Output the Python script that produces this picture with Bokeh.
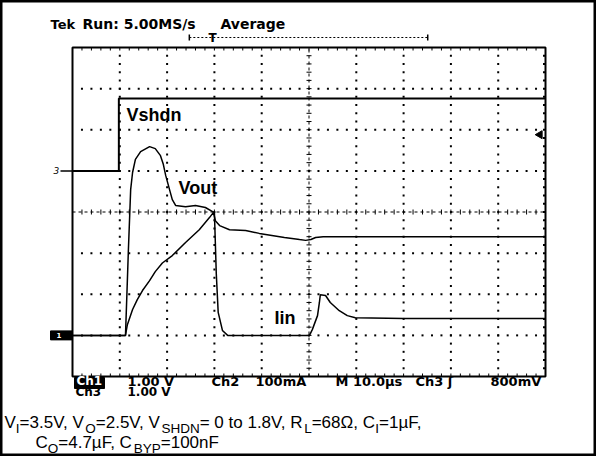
import numpy as np
from bokeh.plotting import figure
from bokeh.models import Range1d
from bokeh.core.properties import value
from bokeh.embed import file_html
from bokeh.resources import INLINE

# ---------------- data ----------------
# time in µs from the left edge of the graticule (M 10.0 µs/div, 10 divisions)
vshdn_t = [0.0, 9.8, 9.8, 100.0]
vshdn_v = [0.0, 0.0, 1.76, 1.76]                      # V  (Ch3, 1.00 V/div)

iin_t = [0.0, 11.2, 11.5, 11.8, 12.3, 12.7, 13.3, 14.4, 16.3, 17.5, 18.6, 19.2,
         19.7, 20.5, 21.1, 21.8, 23.9, 26.0, 28.1, 29.6, 30.0, 30.4, 30.8, 31.7,
         32.8, 50.1, 50.7, 51.8, 52.2, 52.4, 53.5, 54.5, 56.4, 58.1, 59.8, 70.0,
         80.0, 90.0, 100.0]
iin_ma = [0, 0, 100, 202, 355, 396, 428, 447, 459, 454, 437, 416,
          389, 355, 330, 316, 313, 316, 311, 301, 299, 150, 56, 12,
          0, 0, 14, 48, 80, 99, 97, 80, 60, 48, 43, 41,
          41, 41, 41]                                  # mA (Ch2, 100 mA/div)

vout_t = [0.0, 11.2, 11.6, 12.7, 13.7, 14.8, 16.3, 17.5, 19.0, 21.1, 23.9, 26.8,
          29.0, 29.8, 30.2, 31.1, 33.2, 36.6, 39.5, 44.8, 48.0, 49.3, 50.4, 51.4,
          53.0, 70.0, 100.0]
vout_v = [0.0, 0.0, 0.26, 0.63, 0.87, 1.09, 1.33, 1.55, 1.76, 1.94, 2.26, 2.57,
          2.87, 2.99, 2.79, 2.67, 2.57, 2.55, 2.48, 2.38, 2.33, 2.31, 2.33, 2.38,
          2.40, 2.40, 2.40]                            # V  (Ch1, 1.00 V/div)

# channel ground reference (divisions above graticule bottom) and scale per division
CH1_GND, CH1_SCALE = 1.0, 1.0
CH2_GND, CH2_SCALE = 1.0, 100.0
CH3_GND, CH3_SCALE = 5.0, 1.0
trigger_level_v = 0.88
record_window_us = [24.7, 75.1]
trigger_pos_us = 29.6

N_HDIV, N_VDIV, US_PER_DIV, MINOR = 10, 8, 10.0, 5

header_texts = ["Tek", "Run: 5.00MS/s", "Average"]
row1_texts = ["1.00 V", "Ch2", "100mA", "M 10.0\u00b5s", "Ch3 \u0283", "800mV"]
row2_texts = ["Ch3", "1.00 V"]
trace_labels = ["Vshdn", "Vout", "Iin"]
caption_line1 = [("V", 0), ("I", 1), ("=3.5V, V", 0), ("O", 1), ("=2.5V, V", 0),
                 ("SHDN", 1), ("= 0 to 1.8V, R", 0), ("L", 1), ("=68\u03a9, C", 0),
                 ("I", 1), ("=1\u00b5F,", 0)]
caption_line2 = [("C", 0), ("O", 1), ("=4.7\u00b5F, C", 0), ("BYP", 1), ("=100nF", 0)]

# ---------------- layout ----------------
W, H = 596, 456
PX_PER_US = 4.73
PX_PER_DIV = 41.125
GRID_LEFT = 72.0      # canvas px
GRID_BOTTOM = 376.0   # canvas px from top


def ux(px_ref):
    return (px_ref - 8 - GRID_LEFT) / PX_PER_US


def uy(py_ref):
    return (GRID_BOTTOM - (py_ref - 8)) / PX_PER_DIV


p = figure(width=W, height=H,
           x_range=Range1d(-GRID_LEFT / PX_PER_US, (W - GRID_LEFT) / PX_PER_US),
           y_range=Range1d(-(H - GRID_BOTTOM) / PX_PER_DIV, GRID_BOTTOM / PX_PER_DIV),
           output_backend="svg", toolbar_location=None,
           x_axis_location=None, y_axis_location=None, min_border=0)
p.grid.visible = False
p.outline_line_color = "black"
p.outline_line_width = 4
p.background_fill_color = "white"
p.border_fill_color = "white"

T_MAX = N_HDIV * US_PER_DIV
minor_t = np.arange(0, T_MAX + 1e-9, US_PER_DIV / MINOR)
minor_d = np.arange(0, N_VDIV + 1e-9, 1.0 / MINOR)

# graticule dots
dx, dy = [], []
for k in range(1, N_HDIV):
    if k == N_HDIV // 2:
        continue
    for d in minor_d[1:-1]:
        dx.append(k * US_PER_DIV); dy.append(d)
for k in range(1, N_VDIV):
    if k == N_VDIV // 2:
        continue
    for t in minor_t[1:-1]:
        dx.append(t); dy.append(k)
for d in minor_d[1:-1]:
    dx.append(T_MAX - 1.5 / PX_PER_US); dy.append(d)
p.scatter(dx, dy, marker="square", size=2, color="black", line_width=0)

# border ticks
tick_t = minor_t[1:-1]
tk = 3.0 / PX_PER_DIV
p.segment(x0=tick_t, y0=[N_VDIV] * len(tick_t), x1=tick_t, y1=[N_VDIV - tk] * len(tick_t),
          line_color="black", line_width=1)
p.segment(x0=tick_t, y0=[0] * len(tick_t), x1=tick_t, y1=[tk] * len(tick_t),
          line_color="black", line_width=1)

# center cross lines with ticks
cx, cy = T_MAX / 2, N_VDIV / 2
p.line([0, T_MAX], [cy, cy], line_color="black", line_width=1, line_dash="3 3")
p.line([cx, cx], [0, N_VDIV], line_color="black", line_width=1, line_dash="3 3")
p.segment(x0=tick_t, y0=[cy - 2.5 / PX_PER_DIV] * len(tick_t), x1=tick_t,
          y1=[cy + 2.5 / PX_PER_DIV] * len(tick_t), line_color="black", line_width=1)
td = minor_d[1:-1]
p.segment(x0=[cx - 2.5 / PX_PER_US] * len(td), y0=td, x1=[cx + 2.5 / PX_PER_US] * len(td),
          y1=td, line_color="black", line_width=1)

# graticule frame
p.quad(left=[0], right=[T_MAX], bottom=[0], top=[N_VDIV], fill_color=None,
       line_color="black", line_width=2)

# traces
p.line(vshdn_t, [CH3_GND + v / CH3_SCALE for v in vshdn_v], line_color="black", line_width=2)
p.line(iin_t, [CH2_GND + v / CH2_SCALE for v in iin_ma], line_color="black", line_width=1.5)
p.line(vout_t, [CH1_GND + v / CH1_SCALE for v in vout_v], line_color="black", line_width=1.5)

# channel markers
p.rect(x=[ux(69)], y=[CH1_GND], width=22 / PX_PER_US, height=9 / PX_PER_DIV,
       fill_color="black", line_color="black")
p.text(x=[ux(64)], y=[CH1_GND], text=["1"], text_color="white", text_font=value("DejaVu Sans"),
       text_font_size=value("7px"), text_font_style="bold", text_baseline="middle")
p.text(x=[ux(61)], y=[CH3_GND], text=["3"], text_color="black", text_font=value("DejaVu Sans"),
       text_font_size=value("9px"), text_font_style="italic", text_baseline="middle")
p.segment(x0=[ux(68)], y0=[CH3_GND], x1=[0], y1=[CH3_GND], line_color="black", line_width=1.5)
p.scatter([T_MAX - 1.2], [CH3_GND + trigger_level_v / CH3_SCALE], marker="triangle",
          angle=np.pi / 2, size=8, color="black")

# record bracket / trigger position
by = uy(45)
p.line(record_window_us, [by, by], line_color="black", line_width=1, line_dash="2 2")
p.segment(x0=record_window_us, y0=[by - 3 / PX_PER_DIV] * 2, x1=record_window_us,
          y1=[by + 3 / PX_PER_DIV] * 2, line_color="black", line_width=1.5)
p.text(x=[trigger_pos_us], y=[uy(52)], text=["T"], text_align="center",
       text_font=value("DejaVu Sans"), text_font_size=value("12px"), text_font_style="bold")

# header
p.text(x=[ux(58)], y=[uy(39)], text=[header_texts[0]],
       text_font=value("DejaVu Sans"), text_font_size=value("13px"), text_font_style="bold",
       text_color="black")
p.text(x=[ux(90), ux(228)], y=[uy(39)] * 2, text=header_texts[1:],
       text_font=value("DejaVu Sans"), text_font_size=value("14px"), text_font_style="bold",
       text_color="black")

# bottom readouts
p.rect(x=[ux(97)], y=[uy(390.5)], width=30 / PX_PER_US, height=11 / PX_PER_DIV,
       fill_color="black", line_color="black")
p.text(x=[ux(84)], y=[uy(395.5)], text=["Ch1"], text_color="white",
       text_font=value("DejaVu Sans"), text_font_size=value("12px"), text_font_style="bold")
p.text(x=[ux(135), ux(219), ux(263), ux(343), ux(423), ux(498)], y=[uy(396)] * 6,
       text=row1_texts, text_font=value("DejaVu Sans"), text_font_size=value("13px"),
       text_font_style="bold", text_color="black")
p.text(x=[ux(83), ux(135)], y=[uy(406)] * 2, text=row2_texts,
       text_font=value("DejaVu Sans"), text_font_size=value("12px"),
       text_font_style="bold", text_color="black")

# trace labels
p.text(x=[ux(134), ux(186), ux(282)], y=[uy(132), uy(205), uy(335)], text=trace_labels,
       text_font=value("Liberation Sans"), text_font_size=value("18px"),
       text_font_style="bold", text_color="black")

# caption with subscripts (Liberation Sans advance widths, 1/1000 em)
ADV = {' ': 278, ',': 278, '.': 278, '=': 584, 'V': 667, 'R': 722, 'C': 722, 'F': 611,
       't': 278, 'o': 556, 'n': 556, '\u03a9': 768, '\u00b5': 576, 'I': 278, 'O': 778,
       'S': 667, 'H': 722, 'D': 722, 'N': 722, 'L': 556, 'B': 667, 'Y': 667, 'P': 667}
MAIN_FS, SUB_FS = 17.0, 13.5


def layout(segs, x0_ref, base_ref):
    mx, my, mt, sx, sy, st = [], [], [], [], [], []
    x = x0_ref
    for s, sub in segs:
        fs = SUB_FS if sub else MAIN_FS
        if sub:
            sx.append(ux(x)); sy.append(uy(base_ref + 4)); st.append(s)
        else:
            mx.append(ux(x)); my.append(uy(base_ref)); mt.append(s)
        x += sum(ADV.get(c, 556) for c in s) * fs / 1000.0
    return mx, my, mt, sx, sy, st


for segs, x0, base in [(caption_line1, 12, 439), (caption_line2, 43, 459)]:
    mx, my, mt, sx, sy, st = layout(segs, x0, base)
    p.text(x=mx, y=my, text=mt, text_font=value("Liberation Sans"),
           text_font_size=value(f"{MAIN_FS}px"), text_color="black")
    p.text(x=sx, y=sy, text=st, text_font=value("Liberation Sans"),
           text_font_size=value(f"{SUB_FS}px"), text_color="black")

open("out.html", "w").write(file_html(p, INLINE))
